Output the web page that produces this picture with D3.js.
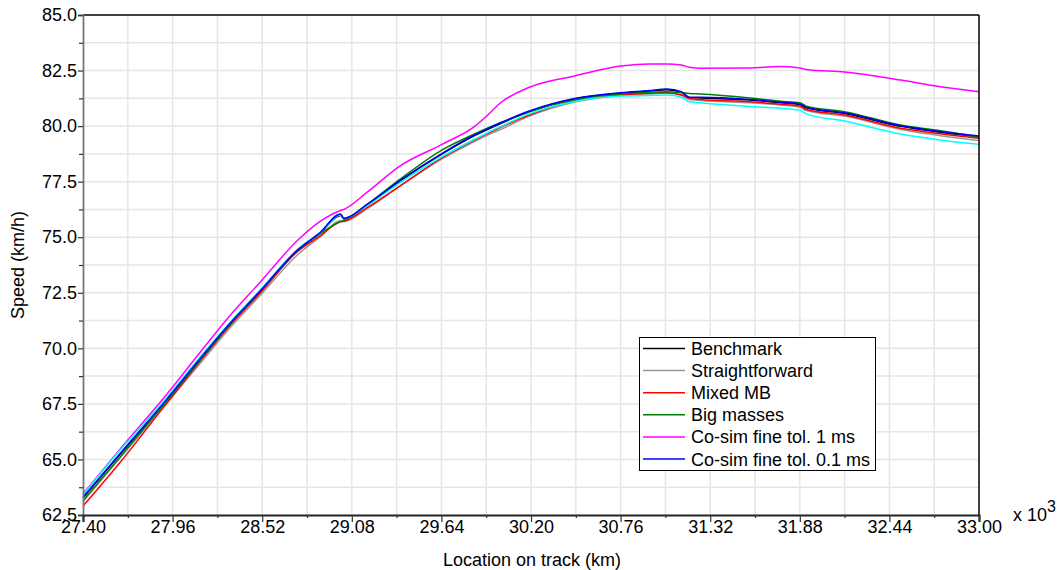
<!DOCTYPE html>
<html>
<head>
<meta charset="utf-8">
<script src="https://cdn.jsdelivr.net/npm/d3@7"></script>
<style>
  html, body { margin: 0; padding: 0; background: #fff; }
  svg { display: block; font-family: "Liberation Sans", Arial, sans-serif; }
</style>
</head>
<body>
<svg id="chart" width="1062" height="570"></svg>
<script>
// ---------------- DATA ----------------
const location_km = [27.40, 27.63, 27.92, 28.13, 28.31, 28.51, 28.74, 28.88, 29.01, 29.03, 29.18, 29.38, 29.65, 29.85, 29.93, 30.01, 30.19, 30.48, 30.76, 30.94, 31.05, 31.14, 31.19, 31.26, 31.57, 31.76, 31.88, 31.92, 32.16, 32.51, 32.73, 33.00];

const benchmark      = [63.28, 65.22, 67.64, 69.50, 71.02, 72.57, 74.39, 75.17, 75.98, 75.82, 76.47, 77.52, 78.77, 79.58, 79.86, 80.12, 80.65, 81.23, 81.48, 81.58, 81.64, 81.52, 81.28, 81.27, 81.17, 81.05, 80.97, 80.82, 80.57, 79.99, 79.75, 79.52];
const straightforward= [63.10, 65.05, 67.50, 69.30, 70.85, 72.40, 74.20, 75.00, 75.75, 75.70, 76.30, 77.30, 78.55, 79.32, 79.60, 79.85, 80.45, 81.10, 81.38, 81.45, 81.48, 81.40, 81.20, 81.15, 81.05, 80.95, 80.85, 80.70, 80.45, 79.85, 79.60, 79.35];
const mixedMB        = [62.90, 64.85, 67.50, 69.40, 70.95, 72.50, 74.35, 75.05, 75.70, 75.72, 76.35, 77.30, 78.60, 79.38, 79.67, 79.95, 80.50, 81.15, 81.40, 81.48, 81.50, 81.40, 81.25, 81.20, 81.10, 80.98, 80.90, 80.75, 80.50, 79.90, 79.68, 79.45];
const bigMasses      = [63.15, 65.10, 67.60, 69.45, 71.00, 72.60, 74.40, 75.15, 75.70, 75.75, 76.50, 77.60, 78.95, 79.66, 79.92, 80.15, 80.65, 81.20, 81.45, 81.52, 81.55, 81.50, 81.47, 81.45, 81.27, 81.12, 81.05, 80.90, 80.65, 80.05, 79.82, 79.50];
const cosim1ms       = [63.45, 65.45, 67.90, 69.80, 71.40, 73.00, 74.85, 75.70, 76.20, 76.25, 77.05, 78.20, 79.20, 80.00, 80.50, 81.05, 81.75, 82.27, 82.70, 82.80, 82.80, 82.75, 82.65, 82.60, 82.62, 82.68, 82.62, 82.55, 82.43, 82.07, 81.80, 81.55];
const cosim01ms      = [63.30, 65.25, 67.67, 69.52, 71.05, 72.60, 74.42, 75.20, 76.05, 75.85, 76.50, 77.55, 78.80, 79.61, 79.89, 80.15, 80.68, 81.25, 81.50, 81.60, 81.67, 81.55, 81.30, 81.30, 81.20, 81.08, 81.00, 80.85, 80.60, 80.02, 79.78, 79.55];
const extraRun       = [63.40, 65.40, 67.75, 69.60, 71.10, 72.65, 74.45, 75.20, 76.00, 75.85, 76.45, 77.45, 78.65, 79.42, 79.71, 79.98, 80.55, 81.12, 81.35, 81.38, 81.40, 81.30, 81.10, 81.05, 80.88, 80.80, 80.72, 80.55, 80.23, 79.64, 79.40, 79.18];

const seriesNames  = ["Benchmark", "Straightforward", "Mixed MB", "Big masses", "Co-sim fine tol. 1 ms", "Co-sim fine tol. 0.1 ms"];
const xTickValues  = [27.40, 27.96, 28.52, 29.08, 29.64, 30.20, 30.76, 31.32, 31.88, 32.44, 33.00];
const yTickValues  = [62.5, 65.0, 67.5, 70.0, 72.5, 75.0, 77.5, 80.0, 82.5, 85.0];
const xLabel = "Location on track (km)";
const yLabel = "Speed (km/h)";

// ---------------- LAYOUT ----------------
const svg = d3.select("#chart");
const L = 83, R = 979, T = 15, B = 515;
const FS = 18;
const x = d3.scaleLinear().domain([27.40, 33.00]).range([L, R]);
const y = d3.scaleLinear().domain([62.5, 85.0]).range([B, T]);

const colors = {
  "Benchmark": "#000000",
  "Straightforward": "#999999",
  "Mixed MB": "#ff0000",
  "Big masses": "#008000",
  "Co-sim fine tol. 1 ms": "#ff00ff",
  "Co-sim fine tol. 0.1 ms": "#0000ff",
  "extra": "#00ffff"
};

// minor grid positions
const xGrid = [];
for (let i = 0; i < xTickValues.length - 1; i++) {
  xGrid.push(xTickValues[i], (xTickValues[i] + xTickValues[i + 1]) / 2);
}
xGrid.push(xTickValues[xTickValues.length - 1]);
const yGrid = [];
for (let i = 0; i < yTickValues.length - 1; i++) {
  yGrid.push(yTickValues[i], (yTickValues[i] + yTickValues[i + 1]) / 2);
}
yGrid.push(yTickValues[yTickValues.length - 1]);

const grid = svg.append("g");
grid.selectAll(".vg").data(xGrid.slice(1, -1)).enter().append("line")
  .attr("x1", d => x(d)).attr("x2", d => x(d)).attr("y1", T).attr("y2", B)
  .attr("stroke", "#e6e6e6").attr("stroke-width", 1.5);
grid.selectAll(".hg").data(yGrid.slice(1, -1)).enter().append("line")
  .attr("x1", L).attr("x2", R).attr("y1", d => y(d)).attr("y2", d => y(d))
  .attr("stroke", "#e6e6e6").attr("stroke-width", 1.5);

// ---------------- LINES ----------------
const line = d3.line().curve(d3.curveMonotoneX).x((d, i) => x(location_km[i])).y(d => y(d));
const drawOrder = [
  ["Benchmark", benchmark],
  ["Straightforward", straightforward],
  ["Mixed MB", mixedMB],
  ["Big masses", bigMasses],
  ["Co-sim fine tol. 1 ms", cosim1ms],
  ["extra", extraRun],
  ["Co-sim fine tol. 0.1 ms", cosim01ms]
];
const plot = svg.append("g");
drawOrder.forEach(([name, vals]) => {
  plot.append("path").datum(vals)
    .attr("d", line)
    .attr("fill", "none")
    .attr("stroke", colors[name])
    .attr("stroke-width", 1.5)
    .attr("stroke-linejoin", "round");
});

// ---------------- FRAME ----------------
svg.append("line").attr("x1", L).attr("x2", R).attr("y1", T).attr("y2", T)
  .attr("stroke", "#000").attr("stroke-width", 1.5);
svg.append("line").attr("x1", R).attr("x2", R).attr("y1", T).attr("y2", B)
  .attr("stroke", "#000").attr("stroke-width", 1.5);

// ---------------- AXES ----------------
const fmtX = d3.format(".2f"), fmtY = d3.format(".1f");

// Y axis
const yAxis = svg.append("g").attr("transform", `translate(${L},0)`)
  .call(d3.axisLeft(y).tickValues(yTickValues).tickFormat(fmtY).tickSize(5).tickPadding(1));
yAxis.select(".domain").attr("stroke", "#777").attr("stroke-width", 1.8);
yAxis.selectAll(".tick line").attr("stroke", "#333").attr("stroke-width", 1.2);
yAxis.selectAll(".tick text").attr("font-size", FS).attr("fill", "#000")
  .attr("font-family", "Liberation Sans, Arial, sans-serif");
const yMinor = svg.append("g").attr("transform", `translate(${L},0)`)
  .call(d3.axisLeft(y).tickValues(yGrid.filter((d, i) => i % 2 === 1)).tickFormat("").tickSize(4));
yMinor.select(".domain").remove();
yMinor.selectAll(".tick line").attr("stroke", "#333").attr("stroke-width", 1.2);

// X axis
const xAxis = svg.append("g").attr("transform", `translate(0,${B})`)
  .call(d3.axisBottom(x).tickValues(xTickValues).tickFormat(fmtX).tickSize(7).tickPadding(-2));
xAxis.select(".domain").attr("stroke", "#222").attr("stroke-width", 2.2);
xAxis.selectAll(".tick line").attr("stroke", "#333").attr("stroke-width", 1.2);
xAxis.selectAll(".tick text").attr("font-size", FS).attr("fill", "#000")
  .attr("font-family", "Liberation Sans, Arial, sans-serif");
const xMinor = svg.append("g").attr("transform", `translate(0,${B})`)
  .call(d3.axisBottom(x).tickValues(xGrid.filter((d, i) => i % 2 === 1)).tickFormat("").tickSize(3));
xMinor.select(".domain").remove();
xMinor.selectAll(".tick line").attr("stroke", "#333").attr("stroke-width", 1.2);

// multiplier
const mult = svg.append("text").attr("x", 1013).attr("y", 521).attr("font-size", FS).attr("fill", "#000");
mult.append("tspan").text("x 10");
mult.append("tspan").attr("dy", -9).attr("font-size", 16).text("3");

// titles
svg.append("text").attr("x", 532).attr("y", 566).attr("text-anchor", "middle")
  .attr("font-size", FS).attr("fill", "#000").text(xLabel);
svg.append("text").attr("transform", "translate(24,265) rotate(-90)").attr("text-anchor", "middle")
  .attr("font-size", FS).attr("fill", "#000").text(yLabel);

// ---------------- LEGEND ----------------
const lg = svg.append("g");
lg.append("rect").attr("x", 639.5).attr("y", 337.5).attr("width", 236).attr("height", 133)
  .attr("fill", "#fff").attr("stroke", "#000").attr("stroke-width", 1);
seriesNames.forEach((name, i) => {
  const cy = 348.5 + i * 22.1;
  lg.append("line").attr("x1", 643).attr("x2", 685).attr("y1", cy).attr("y2", cy)
    .attr("stroke", colors[name]).attr("stroke-width", 1.5);
  lg.append("text").attr("x", 691).attr("y", cy + 6.5).attr("font-size", FS).attr("fill", "#000").text(name);
});
</script>
</body>
</html>
